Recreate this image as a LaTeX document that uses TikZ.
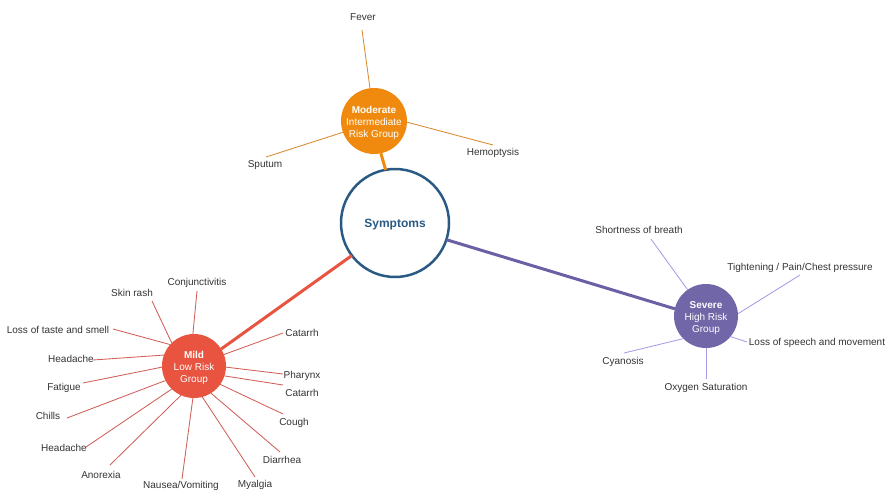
\documentclass[tikz,border=0pt]{standalone}
\usepackage{fontspec}
\setmainfont{Liberation Sans}
\definecolor{symblue}{HTML}{2A5A84}
\definecolor{modfill}{HTML}{EF8A0F}
\definecolor{modline}{HTML}{D98A2F}
\definecolor{mildfill}{HTML}{E8543F}
\definecolor{mildline}{HTML}{CF5F58}
\definecolor{sevfill}{HTML}{7066A8}
\definecolor{sevtrunk}{HTML}{6B5FA5}
\definecolor{sevline}{HTML}{A59DE6}
\definecolor{txt}{HTML}{333333}
\begin{document}
\begin{tikzpicture}[x=1pt,y=-1pt,font=\fontsize{10}{11.7}\selectfont,
  hub/.style={circle,inner sep=0pt,outer sep=0pt,minimum size=#1},
  hubtext/.style={text=white,align=center,inner sep=0pt,yshift=-2pt},
  leaf/.style={text=txt,inner sep=1pt,yshift=-1pt},
  spoke/.style={line width=0.85pt},
  trunk/.style={line width=3pt}]
\useasboundingbox (0,0) rectangle (886,490);

% hubs
\node[circle,draw=symblue,line width=2.5pt,fill=white,minimum size=108pt,inner sep=0pt,outer sep=0pt] (sym) at (395,223) {};
\node[text=symblue,font=\fontsize{12}{14}\selectfont\bfseries,yshift=-2pt] (symtext) at (sym) {Symptoms};
\node[hub=66pt,fill=modfill] (mod) at (374,121) {};
\node[hubtext] (modtext) at (mod) {\textbf{Moderate}\\Intermediate\\Risk Group};
\node[hub=64pt,fill=mildfill] (mild) at (194,366) {};
\node[hubtext] (mildtext) at (mild) {\textbf{Mild}\\Low Risk\\Group};
\node[hub=64pt,fill=sevfill] (sev) at (706,316) {};
\node[hubtext] (sevtext) at (sev) {\textbf{Severe}\\High Risk\\Group};

% trunks
\draw[trunk,modfill] (mod.282) -- (sym.100);
\draw[trunk,mildfill] (mild.32) -- (sym.217);
\draw[trunk,sevtrunk] (sev.167) -- (sym.342);

% moderate leaves
\node[leaf] (fever) at (363,16) {Fever};
\node[leaf] (sputum) at (265,164) {Sputum};
\node[leaf] (hemo) at (493,152) {Hemoptysis};
\coordinate (cfever) at (362,30);
\coordinate (csputum) at (266,157);
\coordinate (chemo) at (493,145);
\draw[spoke,modline] (cfever) -- (mod.97);
\draw[spoke,modline] (csputum) -- (mod.200);
\draw[spoke,modline] (chemo) -- (mod.358);

% mild leaves
\node[leaf] (conj) at (197,282) {Conjunctivitis};
\node[leaf] (skin) at (132,292) {Skin rash};
\node[leaf] (taste) at (58,329) {Loss of taste and smell};
\node[leaf] (heada) at (71,358) {Headache};
\node[leaf] (fatigue) at (64,387) {Fatigue};
\node[leaf] (chills) at (48,415) {Chills};
\node[leaf] (headb) at (64,447) {Headache};
\node[leaf] (anorexia) at (101,474) {Anorexia};
\node[leaf] (nausea) at (181,485) {Nausea/Vomiting};
\node[leaf] (myalgia) at (255,484) {Myalgia};
\node[leaf] (diarrhea) at (282,459) {Diarrhea};
\node[leaf] (cough) at (294,422) {Cough};
\node[leaf] (catb) at (302,392) {Catarrh};
\node[leaf] (pharynx) at (302,375) {Pharynx};
\node[leaf] (cata) at (302,332) {Catarrh};
\coordinate (cconj) at (197,291);
\coordinate (cskin) at (152,301);
\coordinate (ctaste) at (113,329);
\coordinate (cheada) at (93,360);
\coordinate (cfatigue) at (83,383);
\coordinate (cchills) at (67,418);
\coordinate (cheadb) at (86,447);
\coordinate (canorexia) at (110,465);
\coordinate (cnausea) at (182,479);
\coordinate (cmyalgia) at (255,477);
\coordinate (cdiarrhea) at (280,452);
\coordinate (ccough) at (283,414);
\coordinate (ccatb) at (283,385);
\coordinate (cpharynx) at (283,374);
\coordinate (ccata) at (283,333);
\draw[spoke,mildline] (cconj) -- (mild.92);
\draw[spoke,mildline] (cskin) -- (mild.134);
\draw[spoke,mildline] (ctaste) -- (mild.138);
\draw[spoke,mildline] (cheada) -- (mild.160);
\draw[spoke,mildline] (cfatigue) -- (mild.182);
\draw[spoke,mildline] (cchills) -- (mild.207);
\draw[spoke,mildline] (cheadb) -- (mild.226);
\draw[spoke,mildline] (canorexia) -- (mild.246);
\draw[spoke,mildline] (cnausea) -- (mild.268);
\draw[spoke,mildline] (cmyalgia) -- (mild.285);
\draw[spoke,mildline] (cdiarrhea) -- (mild.302);
\draw[spoke,mildline] (ccough) -- (mild.325);
\draw[spoke,mildline] (ccatb) -- (mild.342);
\draw[spoke,mildline] (cpharynx) -- (mild.358);
\draw[spoke,mildline] (ccata) -- (mild.21);

% severe leaves
\node[leaf] (short) at (639,229) {Shortness of breath};
\node[leaf] (tight) at (800,267) {Tightening / Pain/Chest pressure};
\node[leaf] (speech) at (817,342) {Loss of speech and movement};
\node[leaf] (cyan) at (623,361) {Cyanosis};
\node[leaf] (oxy) at (706,387) {Oxygen Saturation};
\coordinate (cshort) at (651,239);
\coordinate (ctight) at (800,275);
\coordinate (cspeech) at (747,342);
\coordinate (ccyan) at (624,353);
\coordinate (coxy) at (706,379);
\draw[spoke,sevline] (cshort) -- (sev.125);
\draw[spoke,sevline] (ctight) -- (sev.4);
\draw[spoke,sevline] (cspeech) -- (sev.320);
\draw[spoke,sevline] (ccyan) -- (sev.225);
\draw[spoke,sevline] (coxy) -- (sev.270);
\end{tikzpicture}
\end{document}
